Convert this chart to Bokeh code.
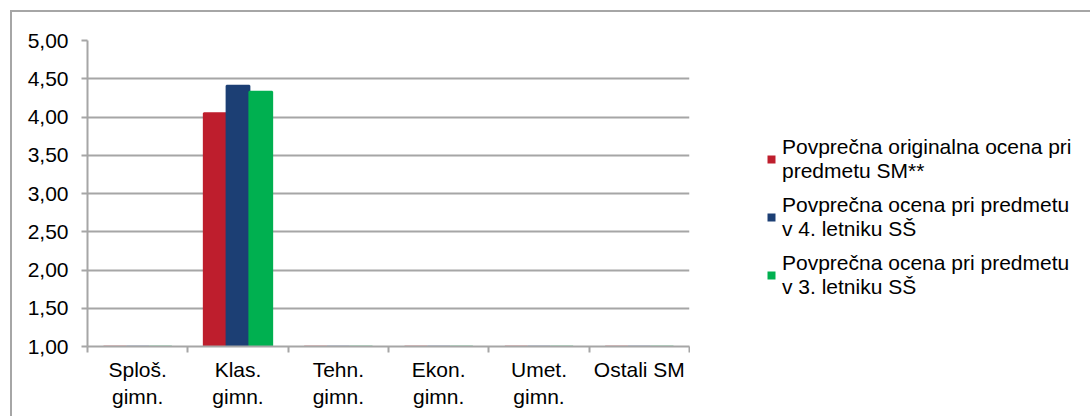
from bokeh.plotting import figure
from bokeh.layouts import row
from bokeh.models import (ColumnDataSource, FixedTicker, CustomJSTickFormatter, Range1d,
                          Legend, LegendItem)
from bokeh.embed import file_html
from bokeh.resources import INLINE

categories = ["Sploš.\ngimn.", "Klas.\ngimn.", "Tehn.\ngimn.", "Ekon.\ngimn.", "Umet.\ngimn.", "Ostali SM"]
original = [1.00, 4.05, 1.00, 1.00, 1.00, 1.00]
grade4 = [1.00, 4.41, 1.00, 1.00, 1.00, 1.00]
grade3 = [1.00, 4.33, 1.00, 1.00, 1.00, 1.00]
series_names = ["Povprečna originalna ocena pri\npredmetu SM**",
                "Povprečna ocena pri predmetu\nv 4. letniku SŠ",
                "Povprečna ocena pri predmetu\nv 3. letniku SŠ"]
y_ticks = [1.0, 1.5, 2.0, 2.5, 3.0, 3.5, 4.0, 4.5, 5.0]

colors = ["#BE1E2D", "#1C3F74", "#00B050"]
edge = ["#D98A90", "#8A9CBA", "#7AD3A2"]

FONT = "Liberation Sans"
FS = "21px"
GREY = "#A6A6A6"

p = figure(width=690, height=416, output_backend="svg", toolbar_location=None,
           x_range=Range1d(0, len(categories)), y_range=Range1d(1, 5),
           min_border_left=87, min_border_right=1, min_border_top=40, min_border_bottom=70)
p.outline_line_color = None
p.background_fill_color = "white"
p.border_fill_alpha = 0
p.styles = {
    "background": ("linear-gradient(%s,%s) 10px 10px / 100%% 2px no-repeat, "
                   "linear-gradient(%s,%s) 10px 10px / 2px 100%% no-repeat, white") % (GREY, GREY, GREY, GREY)
}

xc = [i + 0.5 for i in range(len(categories))]
bw = 0.227
for k, (vals, col, ec) in enumerate(zip([original, grade4, grade3], colors, edge)):
    src = ColumnDataSource(dict(x=[c + (k - 1) * bw for c in xc], top=vals,
                                lc=[col if v > 1 else ec for v in vals]))
    p.vbar(x="x", top="top", bottom=1, width=bw, source=src,
           fill_color=col, line_color="lc", line_width=2)

# axes
p.yaxis.ticker = FixedTicker(ticks=y_ticks)
p.yaxis.formatter = CustomJSTickFormatter(code="return tick.toFixed(2).replace('.', ',');")
p.yaxis.axis_line_color = GREY
p.yaxis.axis_line_width = 2
p.yaxis.major_tick_line_color = GREY
p.yaxis.major_tick_line_width = 2
p.yaxis.major_tick_out = 6
p.yaxis.major_tick_in = 0
p.yaxis.minor_tick_line_color = None
p.yaxis.major_label_text_font = FONT
p.yaxis.major_label_text_font_size = FS
p.yaxis.major_label_text_color = "black"
p.yaxis.major_label_standoff = 13

p.xaxis.ticker = FixedTicker(ticks=xc, minor_ticks=list(range(len(categories) + 1)))
p.xaxis.formatter = CustomJSTickFormatter(args=dict(labels=categories),
                                          code="return labels[Math.floor(tick)];")
p.xaxis.axis_line_color = GREY
p.xaxis.axis_line_width = 2
p.xaxis.major_tick_line_color = None
p.xaxis.minor_tick_line_color = GREY
p.xaxis.minor_tick_line_width = 2
p.xaxis.minor_tick_out = 6
p.xaxis.minor_tick_in = 0
p.xaxis.major_label_text_font = FONT
p.xaxis.major_label_text_font_size = FS
p.xaxis.major_label_text_color = "black"
p.xaxis.major_label_standoff = 5

p.xgrid.grid_line_color = None
p.ygrid.grid_line_color = GREY
p.ygrid.grid_line_width = 2
p.ygrid.level = "underlay"

# legend panel
pl = figure(width=400, height=416, output_backend="svg", toolbar_location=None,
            x_axis_type=None, y_axis_type=None, x_range=Range1d(0, 1), y_range=Range1d(0, 1),
            min_border=0)
pl.outline_line_color = None
pl.grid.grid_line_color = None
pl.background_fill_alpha = 0
pl.border_fill_alpha = 0
pl.styles = {"background": "linear-gradient(%s,%s) 0 10px / 100%% 2px no-repeat, white" % (GREY, GREY)}
lrs = [pl.vbar(x=[0.5], top=[0], bottom=0, width=0, fill_color=c, line_color=None) for c in colors]
legend = Legend(items=[LegendItem(label=n, renderers=[r]) for n, r in zip(series_names, lrs)],
                location=(76, 47), orientation="vertical",
                label_text_font=FONT, label_text_font_size=FS, label_text_color="black",
                glyph_width=10, glyph_height=10, label_standoff=6, spacing=10,
                padding=0, margin=0, border_line_color=None, background_fill_alpha=0)
pl.add_layout(legend, "center")

layout = row(p, pl, spacing=0)
open("out.html", "w").write(file_html(layout, INLINE))
